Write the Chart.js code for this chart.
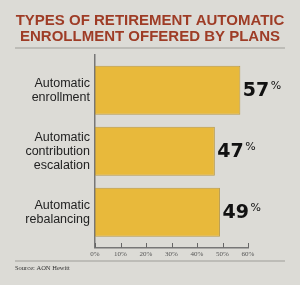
<!DOCTYPE html>
<html><head><meta charset="utf-8">
<script src="https://cdn.jsdelivr.net/npm/chart.js@4"></script>
<style>html,body{margin:0;padding:0;background:#dcdbd6;}canvas{display:block;}</style>
</head><body>
<canvas id="c" width="300" height="285" style="width:300px;height:285px"></canvas>
<script>
const categories = [["Automatic","enrollment"],["Automatic","contribution","escalation"],["Automatic","rebalancing"]];
const values = [57, 47, 49];
const xTickValues = [0, 10, 20, 30, 40, 50, 60];
const titleLines = ["TYPES OF RETIREMENT AUTOMATIC", "ENROLLMENT OFFERED BY PLANS"];
const sourceText = "Source: AON Hewitt";

const deco = {
  id: 'deco',
  beforeDraw(chart) {
    const ctx = chart.ctx;
    ctx.save();
    ctx.fillStyle = '#dcdbd6';
    ctx.fillRect(0, 0, chart.width, chart.height);
    ctx.restore();
  },
  afterDraw(chart) {
    const ctx = chart.ctx;
    const xs = chart.scales.x;
    const area = chart.chartArea;
    ctx.save();
    // title
    ctx.fillStyle = '#9e3c26';
    ctx.font = 'bold 15px "Liberation Sans"';
    ctx.textAlign = 'center';
    ctx.textBaseline = 'middle';
    titleLines.forEach((t, i) => ctx.fillText(t, 150, 20.5 + i * 16));
    // rules
    ctx.strokeStyle = '#b3b2ad';
    ctx.lineWidth = 1.5;
    ctx.beginPath();
    ctx.moveTo(15, 48); ctx.lineTo(285, 48);
    ctx.moveTo(15, 261); ctx.lineTo(285, 261);
    ctx.stroke();
    // inward tick marks
    ctx.strokeStyle = '#666';
    ctx.lineWidth = 1;
    ctx.beginPath();
    xTickValues.forEach(v => {
      const px = Math.round(xs.getPixelForValue(v)) + 0.5;
      ctx.moveTo(px, area.bottom);
      ctx.lineTo(px, area.bottom - 4.5);
    });
    ctx.stroke();
    // source
    ctx.fillStyle = '#333';
    ctx.font = '6.5px "Liberation Serif"';
    ctx.textBaseline = 'middle';
    ctx.textAlign = 'left';
    ctx.fillText(sourceText, 15, 268);
    ctx.restore();
  },
  afterDatasetsDraw(chart) {
    const ctx = chart.ctx;
    const meta = chart.getDatasetMeta(0);
    ctx.save();
    ctx.fillStyle = '#111';
    ctx.textBaseline = 'middle';
    ctx.textAlign = 'left';
    meta.data.forEach((bar, i) => {
      const num = String(values[i]);
      ctx.font = 'bold 19px "DejaVu Sans"';
      const x0 = bar.x + 2.5;
      ctx.fillText(num, x0, bar.y + 0.5);
      const w = ctx.measureText(num).width;
      ctx.font = '11px "DejaVu Sans"';
      ctx.fillText('%', x0 + w + 1.5, bar.y - 4.5);
    });
    ctx.restore();
  }
};

new Chart(document.getElementById('c'), {
  type: 'bar',
  data: {
    datasets: [{
      data: values.map((v, i) => ({ x: v, y: i })),
      backgroundColor: '#e8b93b',
      borderColor: '#b99a48',
      borderWidth: 1,
      borderSkipped: false,
      categoryPercentage: 1,
      barPercentage: 0.805
    }]
  },
  options: {
    indexAxis: 'y',
    responsive: false,
    animation: false,
    layout: { padding: { left: 0, right: 52, top: 55, bottom: 0 } },
    plugins: {
      legend: { display: false },
      tooltip: { enabled: false },
      title: { display: false }
    },
    scales: {
      x: {
        type: 'linear',
        min: 0, max: 60,
        afterBuildTicks: s => { s.ticks = xTickValues.map(v => ({ value: v })); },
        afterFit: s => { s.height = 37.5; },
        grid: { display: false, drawTicks: false },
        border: { display: true, color: '#777', width: 1.5 },
        ticks: {
          callback: v => v + '%',
          color: '#555',
          padding: 2,
          maxRotation: 0,
          font: { family: 'Liberation Sans Narrow', size: 7 }
        }
      },
      y: {
        type: 'linear',
        reverse: true,
        offset: false,
        min: -0.58, max: 2.58,
        afterBuildTicks: s => { s.ticks = categories.map((c, i) => ({ value: i })); },
        afterFit: s => { s.width = 95; },
        grid: { display: false, drawTicks: false, offset: false },
        border: { display: true, color: '#777', width: 1.5 },
        ticks: {
          callback: v => categories[v],
          color: '#222',
          padding: 5,
          font: { family: 'Liberation Sans', size: 12.5, lineHeight: 1.12 }
        }
      }
    }
  },
  plugins: [deco]
});
</script>
</body></html>
